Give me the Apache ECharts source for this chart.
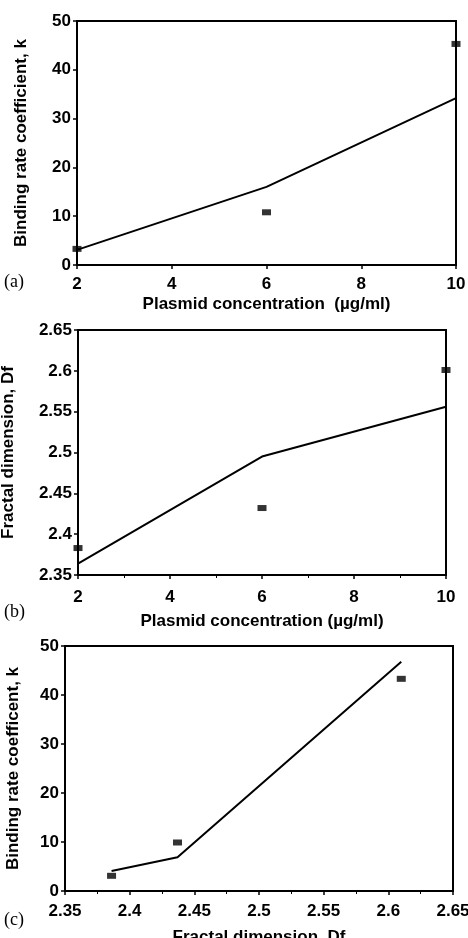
<!DOCTYPE html>
<html>
<head>
<meta charset="utf-8">
<script src="https://cdn.jsdelivr.net/npm/echarts@6/dist/echarts.min.js"></script>
<style>
  html, body { margin: 0; padding: 0; background: #fff; }
  #chart { width: 468px; height: 938px; }
</style>
</head>
<body>
<div id="chart"></div>
<script>
// panel (a): k vs plasmid concentration
const aConc = [2, 6, 10]
const aK = [3.3, 10.8, 45.3]
const aFitK = [3.1, 16.0, 34.2]

// panel (b): Df vs plasmid concentration
const bConc = [2, 6, 10]
const bDf = [2.383, 2.432, 2.601]
const bFitDf = [2.364, 2.495, 2.556]

// panel (c): k vs Df
const cDf = [2.386, 2.437, 2.61]
const cK = [3.1, 9.9, 43.3]
const cFitDf = [2.386, 2.437, 2.61]
const cFitK = [4.1, 6.9, 46.8]

const panelLabels = ['(a)', '(b)', '(c)']

const font = 'Liberation Sans, Arial, sans-serif'
const pairs = (xs, ys) => xs.map((x, i) => [x, ys[i]])

function xAx(idx, min, max, interval, name, gap, minor, margin) {
  return {
    type: 'value', gridIndex: idx, min, max, interval,
    name, nameLocation: 'middle', nameGap: gap,
    nameTextStyle: { fontFamily: font, fontWeight: 'bold', fontSize: 17, color: '#000' },
    axisLine: { lineStyle: { color: '#000', width: 2 } },
    axisTick: { show: true, length: 4, lineStyle: { color: '#000', width: 1.5 } },
    minorTick: { show: minor, splitNumber: 2, length: 3, lineStyle: { color: '#000' } },
    axisLabel: { fontFamily: font, fontWeight: 'bold', fontSize: 17, color: '#000', margin,
      formatter: v => String(+v.toFixed(2)) },
    splitLine: { show: false },
  }
}

function yAx(idx, min, max, interval, name, gap) {
  return {
    type: 'value', gridIndex: idx, min, max, interval,
    name, nameLocation: 'middle', nameGap: gap,
    nameTextStyle: { fontFamily: font, fontWeight: 'bold', fontSize: 17, color: '#000' },
    axisLine: { show: true, lineStyle: { color: '#000', width: 2 } },
    axisTick: { show: true, length: 4, lineStyle: { color: '#000', width: 1.5 } },
    axisLabel: { fontFamily: font, fontWeight: 'bold', fontSize: 17, color: '#000', margin: 6,
      formatter: v => String(+v.toFixed(2)) },
    splitLine: { show: false },
  }
}

function fitSeries(idx, data) {
  return {
    type: 'line', xAxisIndex: idx, yAxisIndex: idx, data,
    showSymbol: false, symbol: 'none',
    lineStyle: { color: '#000', width: 2 }, z: 3,
  }
}

function pointSeries(idx, data) {
  return {
    type: 'scatter', xAxisIndex: idx, yAxisIndex: idx, data,
    symbol: 'rect', symbolSize: [9, 6],
    itemStyle: { color: '#000' }, z: 4,
  }
}

const chart = echarts.init(document.getElementById('chart'))

const gridBase = { show: true, borderColor: '#000', borderWidth: 2, containLabel: false, outerBoundsMode: 'none' }

chart.setOption({
  backgroundColor: '#fff',
  animation: false,
  grid: [
    { ...gridBase, left: 77, right: 12, top: 21, height: 244 },
    { ...gridBase, left: 78, right: 22, top: 330, height: 245 },
    { ...gridBase, left: 65, right: 15, top: 646, height: 245 },
  ],
  xAxis: [
    xAx(0, 2, 10, 2, 'Plasmid concentration  (µg/ml)', 31, false, 11),
    xAx(1, 2, 10, 2, 'Plasmid concentration (µg/ml)', 38, true, 14),
    xAx(2, 2.35, 2.65, 0.05, 'Fractal dimension, Df', 38, true, 12),
  ],
  yAxis: [
    yAx(0, 0, 50, 10, 'Binding rate coefficient, k', 47),
    yAx(1, 2.35, 2.65, 0.05, 'Fractal dimension, Df', 61),
    yAx(2, 0, 50, 10, 'Binding rate coefficent, k', 43),
  ],
  series: [
    fitSeries(0, pairs(aConc, aFitK)),
    pointSeries(0, pairs(aConc, aK)),
    fitSeries(1, pairs(bConc, bFitDf)),
    pointSeries(1, pairs(bConc, bDf)),
    fitSeries(2, pairs(cFitDf, cFitK)),
    pointSeries(2, pairs(cDf, cK)),
  ],
  graphic: panelLabels.map((t, i) => ({
    type: 'text',
    left: 4,
    top: [273, 603, 911][i],
    style: { text: t, font: '18px "Liberation Serif", "Times New Roman", serif', fill: '#000' },
  })),
})
</script>
</body>
</html>
